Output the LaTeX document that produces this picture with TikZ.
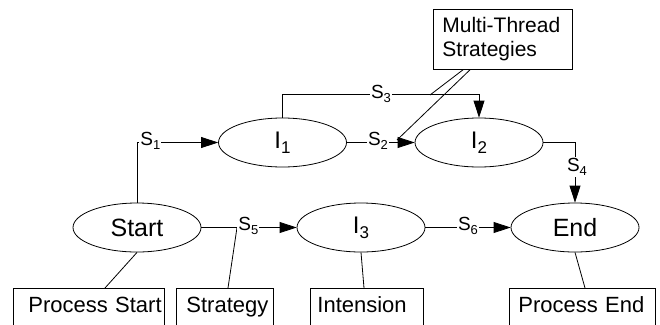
\documentclass[tikz,border=0pt]{standalone}
\usepackage{fontspec}
\setmainfont{Liberation Sans}
\usetikzlibrary{arrows.meta,calc,shapes.geometric}
\newcommand{\slabtext}[1]{{\fontsize{19}{19}\selectfont S\raisebox{-4pt}{\fontsize{13}{13}\selectfont #1}}}
\newcommand{\ilabtext}[1]{{\fontsize{24}{24}\selectfont I\raisebox{-5pt}{\fontsize{17}{17}\selectfont #1}}}
\tikzset{
  state/.style={ellipse, draw, minimum width=128pt, minimum height=49pt, inner sep=0pt, font=\fontsize{25}{25}\selectfont},
  infobox/.style={draw, anchor=north west, align=left, inner ysep=2pt, text height=22pt, text depth=20pt, font=\fontsize{22}{22}\selectfont},
  arr/.style={-{Triangle[length=17pt,width=11pt]}},
  slab/.style={fill=white, inner sep=1pt}
}
\begin{document}
\begin{tikzpicture}[x=1pt,y=-1pt,line width=0.8pt]
\useasboundingbox (0,0) rectangle (660,324);
\clip (0,0) rectangle (660,324);
% states
\node[state] (st) at (137,227.5) {Start};
\node[state] (i1) at (282.5,142.5) {\ilabtext{1}};
\node[state] (i2) at (479,142.5) {\ilabtext{2}};
\node[state] (i3) at (361,227.5) {\ilabtext{3}};
\node[state] (en) at (575,227.5) {End};
% boxes
\node[infobox, inner xsep=15pt, text width=121pt] (ps) at (13,288) {\mbox{Process Start}};
\node[infobox, inner xsep=10pt, text width=77pt] (sg) at (176,288) {\mbox{Strategy}};
\node[infobox, inner xsep=7pt, text width=99pt] (in) at (310,288) {\mbox{Intension}};
\node[infobox, inner xsep=9pt, text width=128pt] (pe) at (509,288) {\mbox{Process End}};
\node[draw, anchor=north west, align=left, inner xsep=9pt, inner ysep=0pt, text width=121pt, minimum height=60pt, font=\fontsize{21}{24}\selectfont] (mt) at (433,9) {Multi-Thread\\Strategies};
% connectors
\draw[arr] (st.north) |- (i1.west);
\draw[arr] (i1.east) -- (i2.west);
\draw[arr] (i1.north) -- ++(0,-23) -| (i2.north);
\draw[arr] (i2.east) -| (en.north);
\draw[arr] (st.east) -- (i3.west);
\draw[arr] (i3.east) -- (en.west);
% attachments
\coordinate (s5pt) at (237,227.5);
\coordinate (mtA) at (430,95);
\coordinate (mtB) at (397,140);
\draw ($(ps.north west)+(92,0)$) -- (st.south);
\draw ($(sg.north west)+(52,0)$) -- (s5pt);
\draw ($(in.north west)+(54,0)$) -- (i3.south);
\draw ($(pe.north west)+(76,0)$) -- (en.south);
\draw ($(mt.south west)+(30,0)$) -- (mtA);
\draw ($(mt.south west)+(37,0)$) -- (mtB);
% labels
\node[slab, anchor=west] (s1) at (139,141) {\slabtext{1}};
\node[slab] (s2) at (378,141) {\slabtext{2}};
\node[slab] (s3) at (381,94) {\slabtext{3}};
\node[slab] (s4) at (577,167) {\slabtext{4}};
\node[slab, anchor=west] (s5) at (237,226) {\slabtext{5}};
\node[slab] (s6) at (468,226) {\slabtext{6}};
\end{tikzpicture}
\end{document}
